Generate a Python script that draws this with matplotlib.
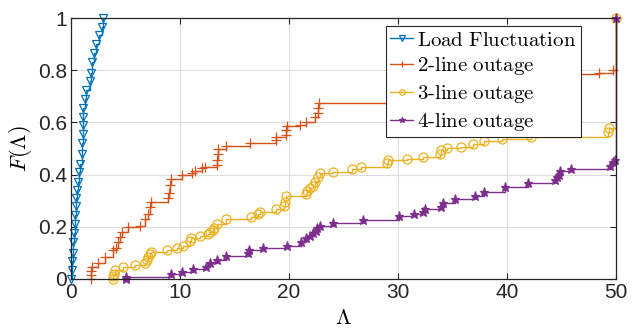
import matplotlib
matplotlib.use("Agg")
import matplotlib.pyplot as plt

plt.rcParams['mathtext.fontset'] = 'cm'
plt.rcParams['font.family'] = ['Liberation Sans', 'DejaVu Sans']

load_x = [0.0, 0.08, 0.12, 0.16, 0.22, 0.27, 0.34, 0.40, 0.46, 0.50, 0.55, 0.64,
          0.76, 0.85, 0.98, 1.03, 1.06, 1.08, 1.10, 1.13, 1.25, 1.38, 1.77, 1.86,
          1.93, 2.08, 2.30, 2.60, 2.85, 2.95]
load_F = [0.0, 0.035, 0.07, 0.10, 0.14, 0.175, 0.21, 0.245, 0.28, 0.31, 0.34, 0.37,
          0.41, 0.44, 0.48, 0.52, 0.555, 0.59, 0.62, 0.655, 0.69, 0.725, 0.76, 0.79,
          0.83, 0.865, 0.90, 0.935, 0.965, 1.0]

out2_x = [1.8, 1.8, 1.85, 1.9, 2.5, 3.1, 3.9, 4.1, 4.35, 4.5, 4.65, 5.26, 6.3, 6.8,
          7.1, 7.25, 7.3, 8.9, 8.95, 9.05, 9.15, 10.15, 11.07, 11.4, 12.0, 12.3,
          13.37, 13.4, 13.45, 13.5, 14.2, 16.4, 18.8, 18.85, 19.7, 19.75, 19.8, 21.0,
          21.6, 22.4, 22.65, 22.7, 22.75, 31.0, 35.0, 39.0, 42.5, 45.5, 48.4, 49.7, 50.0]
out2_F = [0.0, 0.015, 0.03, 0.045, 0.06, 0.085, 0.11, 0.12, 0.14, 0.16, 0.18, 0.20,
          0.205, 0.23, 0.25, 0.275, 0.295, 0.31, 0.33, 0.36, 0.385, 0.40, 0.405, 0.415,
          0.425, 0.43, 0.437, 0.456, 0.48, 0.50, 0.51, 0.52, 0.532, 0.545, 0.552, 0.57,
          0.585, 0.59, 0.60, 0.62, 0.635, 0.655, 0.675, 0.70, 0.72, 0.745, 0.765,
          0.785, 0.79, 0.80, 1.0]

out3_x = [3.9, 3.9, 3.95, 4.0, 4.74, 5.87, 6.8, 6.95, 7.1, 7.25, 7.34, 8.83, 9.7,
          10.25, 10.9, 11.0, 11.8, 12.6, 12.75, 13.05, 13.1, 13.37, 14.2, 16.5, 17.2,
          17.3, 18.8, 19.55, 19.65, 19.7, 21.56, 21.65, 21.93, 22.2, 22.4, 22.7, 22.8,
          24.07, 25.8, 26.6, 29.0, 29.05, 30.8, 32.3, 33.85, 33.9, 34.5, 35.8, 36.85,
          37.9, 39.5, 42.2, 49.3, 49.35, 50.0]
out3_F = [0.0, 0.01, 0.02, 0.035, 0.045, 0.054, 0.06, 0.073, 0.085, 0.095, 0.105,
          0.113, 0.12, 0.128, 0.145, 0.156, 0.165, 0.172, 0.18, 0.188, 0.196, 0.21,
          0.229, 0.239, 0.248, 0.258, 0.268, 0.28, 0.296, 0.318, 0.326, 0.338, 0.347,
          0.356, 0.373, 0.39, 0.405, 0.411, 0.42, 0.43, 0.443, 0.456, 0.46, 0.469,
          0.478, 0.494, 0.503, 0.507, 0.517, 0.53, 0.536, 0.545, 0.565, 0.577, 1.0]

out4_x = [5.05, 5.05, 9.15, 10.15, 11.2, 12.4, 12.75, 13.4, 14.2, 16.2, 16.3, 17.65,
          19.8, 21.07, 21.6, 21.9, 22.2, 22.5, 22.6, 22.8, 24.0, 26.8, 30.1, 31.5,
          32.3, 32.5, 33.9, 34.15, 35.2, 37.06, 37.9, 39.8, 41.95, 44.4, 44.6, 44.8,
          44.9, 45.9, 49.45, 49.7, 49.9, 50.0]
out4_F = [0.0, 0.009, 0.02, 0.028, 0.037, 0.047, 0.06, 0.073, 0.088, 0.10, 0.11,
          0.12, 0.128, 0.143, 0.158, 0.165, 0.175, 0.185, 0.194, 0.204, 0.213, 0.226,
          0.241, 0.249, 0.258, 0.268, 0.277, 0.29, 0.305, 0.318, 0.334, 0.351, 0.369,
          0.379, 0.39, 0.398, 0.414, 0.42, 0.433, 0.45, 0.456, 1.0]

series = [
    (load_x, load_F, r'$\mathrm{Load\ Fluctuation}$', '#0072BD', 'v', 'none', 5.5),
    (out2_x, out2_F, r'$\mathrm{2\text{-}line\ outage}$', '#D95319', '+', '#D95319', 7),
    (out3_x, out3_F, r'$\mathrm{3\text{-}line\ outage}$', '#EDB120', 'o', 'none', 6.5),
    (out4_x, out4_F, r'$\mathrm{4\text{-}line\ outage}$', '#7E2F8E', '*', '#7E2F8E', 6.5),
]

fig = plt.figure(figsize=(6.36, 3.29), dpi=100)
ax = fig.add_axes([0.1116, 0.152, 0.857, 0.793])

for x, F, label, color, marker, mfc, ms in series:
    ax.step(x, F, where='post', color=color, lw=1.0, marker=marker, ms=ms,
            mfc=mfc, mec=color, mew=0.9, label=label, clip_on=False)

ax.set_xlim(0, 50)
ax.set_ylim(0, 1)
ax.set_xticks([0, 10, 20, 30, 40, 50])
ax.set_yticks([0, 0.2, 0.4, 0.6, 0.8, 1])
ax.set_yticklabels(['0', '0.2', '0.4', '0.6', '0.8', '1'])
ax.tick_params(direction='in', top=True, right=True, labelsize=15,
               colors='#262626', length=4, width=0.8, pad=3)
ax.grid(True, color='#dedede', lw=0.8)
ax.set_axisbelow(True)
for s in ax.spines.values():
    s.set_color('#262626')
    s.set_linewidth(0.9)

ax.set_xlabel(r'$\Lambda$', fontsize=16, labelpad=4)
ax.set_ylabel(r'$F(\Lambda)$', fontsize=16, labelpad=3)

leg = ax.legend(loc='upper left', bbox_to_anchor=(0.578, 0.968), fontsize=15,
                frameon=True, fancybox=False, edgecolor='#262626', framealpha=1,
                handlelength=1.1, handletextpad=0.2, borderpad=0.2,
                labelspacing=0.28, borderaxespad=0)
leg.get_frame().set_linewidth(0.8)
for h in leg.legend_handles:
    h.set_markersize(4)

fig.savefig('out.png', dpi=100)
